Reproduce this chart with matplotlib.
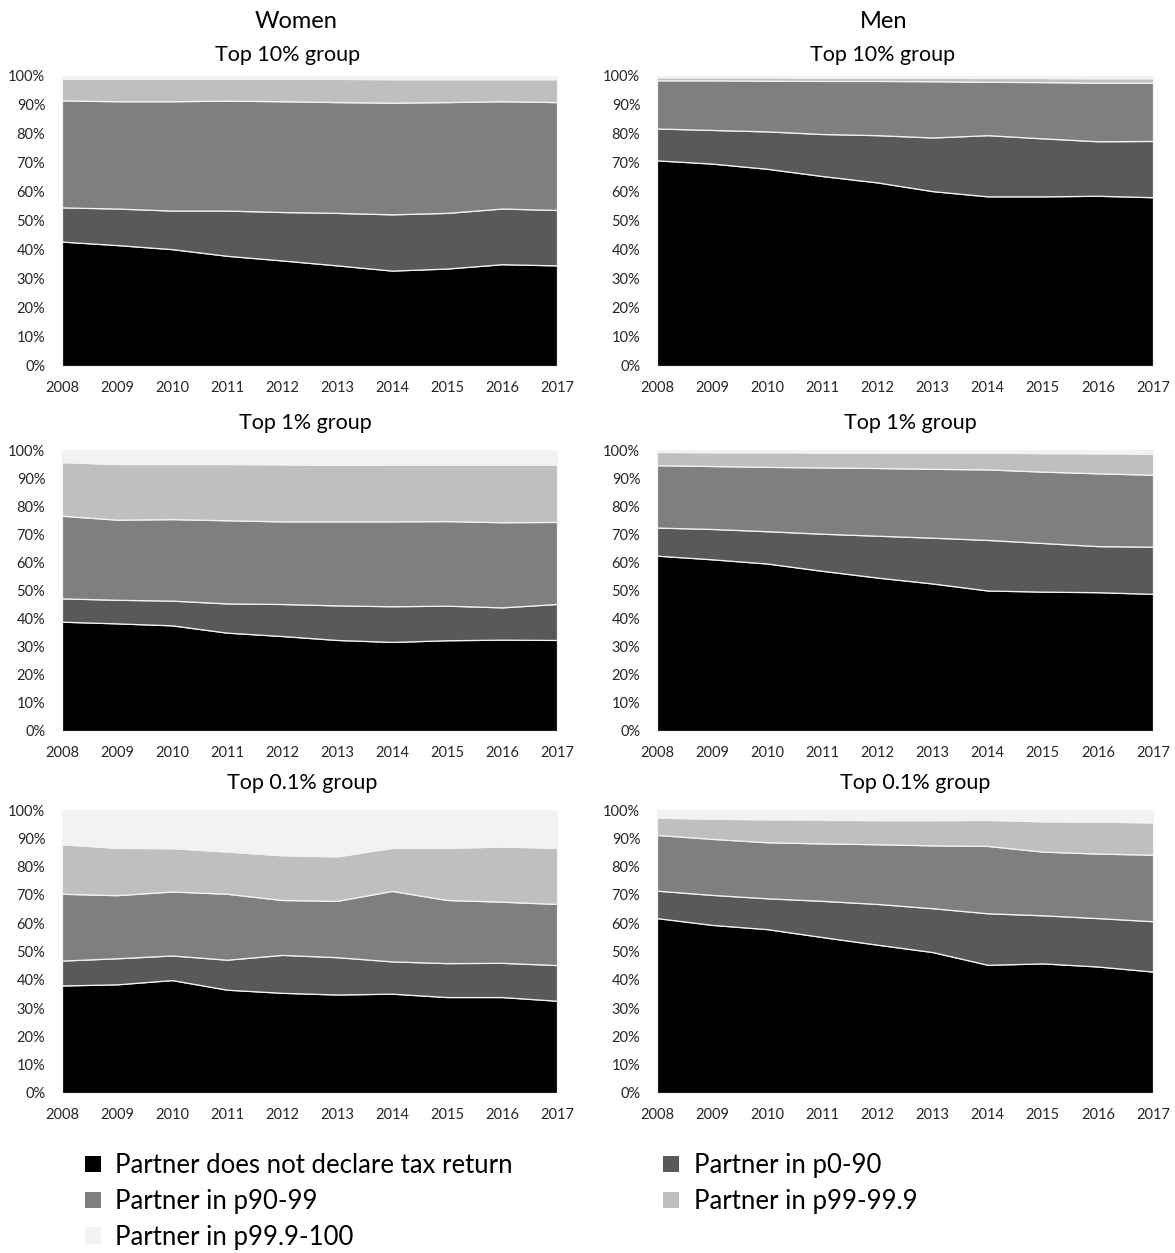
import matplotlib
matplotlib.use("Agg")
import matplotlib.pyplot as plt
from matplotlib.patches import Patch
from matplotlib.ticker import FuncFormatter, MultipleLocator

plt.rcParams['font.family'] = ['Lato', 'DejaVu Sans']

years = [2008, 2009, 2010, 2011, 2012, 2013, 2014, 2015, 2016, 2017]

series_labels = [
    "Partner does not declare tax return",
    "Partner in p0-90",
    "Partner in p90-99",
    "Partner in p99-99.9",
    "Partner in p99.9-100",
]
colors = ["#000000", "#595959", "#7f7f7f", "#bfbfbf", "#f2f2f2"]

# Shares (%) of each partner category, by sex and income group
women_top10 = [
    [42.9, 41.7, 40.3, 38.0, 36.4, 34.7, 32.9, 33.6, 35.1, 34.7],
    [11.8, 12.6, 13.3, 15.6, 16.7, 18.1, 19.4, 19.2, 19.2, 19.1],
    [36.9, 37.0, 37.7, 37.9, 38.2, 38.2, 38.5, 38.2, 37.0, 37.2],
    [7.5, 7.7, 7.7, 7.5, 7.7, 8.0, 8.1, 7.9, 7.6, 7.9],
    [0.9, 1.0, 1.0, 1.0, 1.0, 1.0, 1.1, 1.1, 1.1, 1.1],
]
men_top10 = [
    [70.9, 69.8, 68.0, 65.5, 63.3, 60.3, 58.5, 58.5, 58.7, 58.2],
    [11.0, 11.6, 12.9, 14.5, 16.3, 18.5, 21.1, 20.0, 18.8, 19.4],
    [16.6, 17.1, 17.5, 18.3, 18.7, 19.4, 18.4, 19.4, 20.2, 20.1],
    [1.0, 1.0, 1.1, 1.1, 1.1, 1.2, 1.3, 1.4, 1.5, 1.5],
    [0.5, 0.5, 0.5, 0.6, 0.6, 0.6, 0.7, 0.7, 0.8, 0.8],
]
women_top1 = [
    [38.9, 38.3, 37.6, 35.0, 33.8, 32.4, 31.7, 32.3, 32.5, 32.4],
    [8.3, 8.4, 8.8, 10.4, 11.4, 12.3, 12.7, 12.3, 11.5, 12.8],
    [29.4, 28.5, 29.0, 29.6, 29.4, 29.9, 30.2, 30.1, 30.3, 29.2],
    [19.1, 19.8, 19.6, 20.0, 20.3, 20.1, 20.2, 20.1, 20.5, 20.4],
    [4.3, 5.0, 5.0, 5.0, 5.1, 5.3, 5.2, 5.2, 5.2, 5.2],
]
men_top1 = [
    [62.4, 61.1, 59.6, 57.0, 54.6, 52.5, 50.0, 49.6, 49.4, 48.8],
    [10.0, 10.8, 11.5, 13.2, 14.9, 16.3, 18.0, 17.3, 16.4, 16.8],
    [22.2, 22.4, 22.9, 23.6, 24.1, 24.5, 25.1, 25.4, 25.9, 25.6],
    [4.7, 4.9, 5.2, 5.3, 5.5, 5.7, 5.9, 6.6, 7.1, 7.5],
    [0.7, 0.8, 0.8, 0.9, 0.9, 1.0, 1.0, 1.1, 1.2, 1.3],
]
women_top01 = [
    [38.0, 38.4, 39.9, 36.5, 35.4, 34.8, 35.1, 33.9, 33.9, 32.6],
    [8.8, 9.2, 8.7, 10.6, 13.4, 13.2, 11.4, 12.0, 12.1, 12.6],
    [23.6, 22.3, 22.6, 23.3, 19.4, 19.9, 24.9, 22.3, 21.6, 21.6],
    [17.5, 16.7, 15.3, 14.9, 15.8, 15.7, 15.2, 18.4, 19.5, 19.8],
    [12.1, 13.4, 13.5, 14.7, 16.0, 16.4, 13.4, 13.4, 12.9, 13.4],
]
men_top01 = [
    [61.8, 59.4, 57.9, 55.1, 52.4, 49.8, 45.3, 45.8, 44.7, 42.9],
    [9.7, 10.6, 10.9, 12.8, 14.4, 15.5, 18.2, 17.0, 17.1, 17.8],
    [19.7, 19.8, 19.8, 20.3, 21.1, 22.2, 23.8, 22.5, 22.8, 23.5],
    [6.1, 7.1, 8.1, 8.4, 8.5, 8.9, 9.2, 10.7, 11.3, 11.4],
    [2.7, 3.1, 3.3, 3.4, 3.6, 3.6, 3.5, 4.0, 4.1, 4.4],
]

W, H = 1175, 1253
fig = plt.figure(figsize=(W / 100, H / 100), dpi=100)


def add_panel(left, right, top, bottom, data):
    ax = fig.add_axes([left / W, 1 - bottom / H, (right - left) / W, (bottom - top) / H])
    ax.stackplot(years, *data, colors=colors, edgecolor="#f2f2f2", linewidth=0.9)
    ax.axhline(100, color="#d9d9d9", lw=0.8, ls=(0, (1, 1)), zorder=0)
    ax.set_xlim(years[0], years[-1])
    ax.set_ylim(0, 100)
    ax.set_xticks(years)
    ax.yaxis.set_major_locator(MultipleLocator(10))
    ax.yaxis.set_major_formatter(FuncFormatter(lambda v, p: f"{v:.0f}%"))
    ax.tick_params(length=0, labelsize=10.5, labelcolor="#262626")
    ax.tick_params(axis="y", pad=12)
    ax.tick_params(axis="x", pad=11)
    for s in ax.spines.values():
        s.set_visible(False)
    return ax


rows = [
    (76, 366, women_top10, men_top10, "Top 10% group", 288, 883, 55),
    (450, 731, women_top1, men_top1, "Top 1% group", 305, 910, 423),
    (810, 1093, women_top01, men_top01, "Top 0.1% group", 302, 915, 783),
]
for top, bottom, wdata, mdata, title, wx, mx, ty in rows:
    add_panel(62, 557, top, bottom, wdata)
    add_panel(657, 1153, top, bottom, mdata)
    fig.text(wx / W, 1 - ty / H, title, ha="center", va="center", fontsize=15.5)
    fig.text(mx / W, 1 - ty / H, title, ha="center", va="center", fontsize=15.5)

fig.text(296 / W, 1 - 21 / H, "Women", ha="center", va="center", fontsize=17)
fig.text(884 / W, 1 - 21 / H, "Men", ha="center", va="center", fontsize=17)

handles = [Patch(facecolor=c, edgecolor="none") for c in colors]
order = [0, 2, 4, 1, 3]
fig.legend([handles[i] for i in order], [series_labels[i] for i in order],
           ncol=2, loc="upper left", bbox_to_anchor=(62 / W, 1 - 1130 / H),
           frameon=False, fontsize=18.5, handlelength=0.6, handleheight=0.6,
           handletextpad=0.58, columnspacing=5.85, labelspacing=0.42)

fig.savefig("out.png", dpi=100, facecolor="white")
